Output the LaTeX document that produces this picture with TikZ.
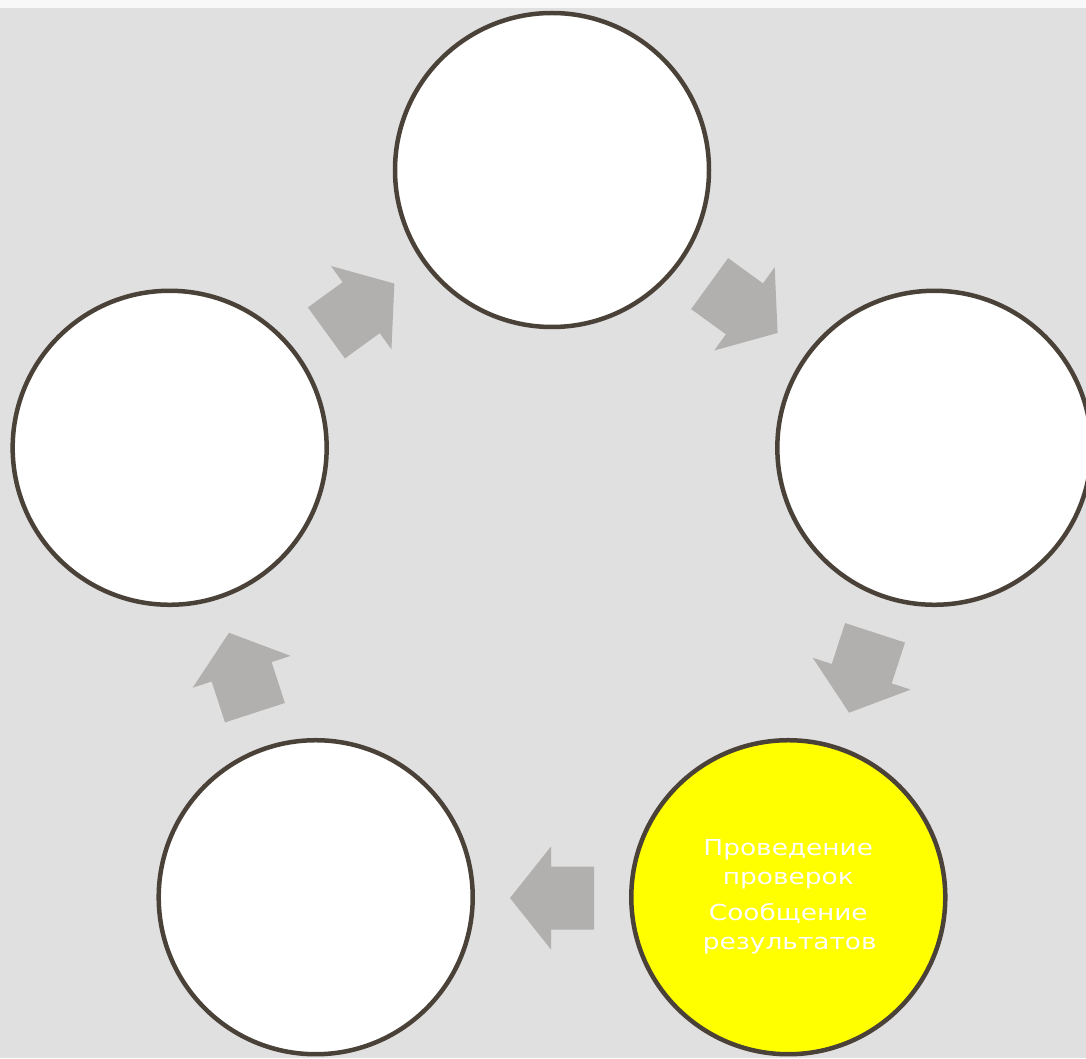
\documentclass[tikz,border=0pt]{standalone}
\usepackage{fontspec}
\newfontfamily\stagefont[FakeStretch=1.2]{DejaVu Sans}
\usetikzlibrary{positioning}
\definecolor{bggray}{RGB}{224,224,224}
\definecolor{topstrip}{RGB}{248,248,248}
\definecolor{ringbrown}{RGB}{74,66,56}
\definecolor{arrowgray}{RGB}{177,176,174}
\definecolor{stageyellow}{RGB}{255,255,0}
\tikzset{
  stage/.style={circle, draw=ringbrown, fill=white, line width=4.5pt,
    minimum size=314pt, inner sep=0pt},
  curstage/.style={stage, fill=stageyellow, text=white, align=center,
    font=\stagefont\fontsize{22}{29}\selectfont},
  flowarrow/.style={fill=arrowgray, draw=none}
}

\begin{document}
\begin{tikzpicture}[x=1pt, y=1pt]
  \fill[bggray] (-552,-486) rectangle (534,572);
  \fill[topstrip] (-552,564) rectangle (534,572);
  \useasboundingbox (-552,-486) rectangle (534,572);
  % stages of the cycle
  \node[stage] (plan) at (90:402) {};
  \node[stage] (prep) at (18:402) {};
  \node[curstage] (check) at (-54:402)
    {\raisebox{-3pt}{\parbox{6cm}{\centering Проведение\\проверок\\[7pt]Сообщение\\результатов}}};
  \node[stage] (fix) at (-126:402) {};
  \node[stage] (review) at (162:402) {};
  % block arrows between the stages
  \foreach \a in {54,-18,-90,-162,126}
    \fill[flowarrow, shift={(\a:326)}, rotate={\a-90}]
      (-42,-31.5) -- (1,-31.5) -- (1,-51.5) -- (42,0)
      -- (1,51.5) -- (1,31.5) -- (-42,31.5) -- cycle;
\end{tikzpicture}
\end{document}
